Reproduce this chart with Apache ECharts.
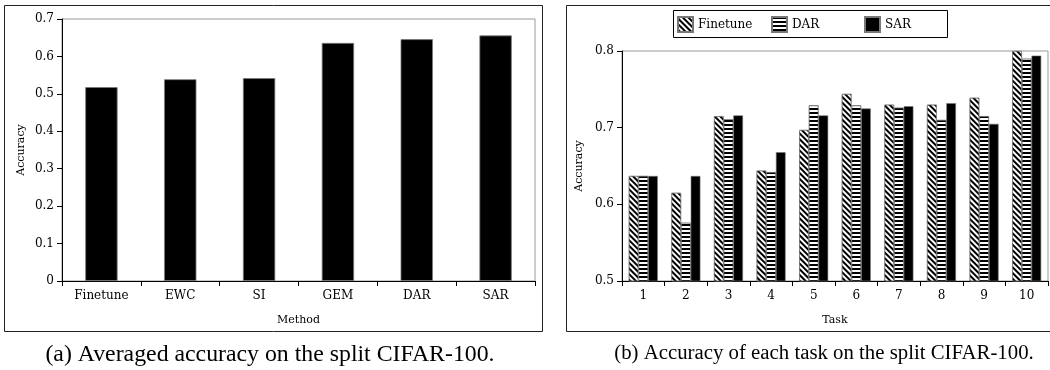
<!DOCTYPE html>
<html>
<head>
<meta charset="utf-8">
<script src="https://cdn.jsdelivr.net/npm/echarts@6/dist/echarts.min.js"></script>
<style>
  html, body { margin: 0; padding: 0; background: #fff; }
  #chart { width: 1050px; height: 370px; }
</style>
</head>
<body>
<div id="chart"></div>
<script>
// ---- data ----
const methods = ['Finetune', 'EWC', 'SI', 'GEM', 'DAR', 'SAR'];
const avgAccuracy = [0.518, 0.539, 0.542, 0.636, 0.646, 0.656];

const tasks = ['1', '2', '3', '4', '5', '6', '7', '8', '9', '10'];
const finetuneAcc = [0.637, 0.615, 0.715, 0.644, 0.697, 0.744, 0.730, 0.730, 0.739, 0.800];
const darAcc      = [0.637, 0.576, 0.711, 0.642, 0.729, 0.729, 0.726, 0.710, 0.715, 0.790];
const sarAcc      = [0.637, 0.637, 0.716, 0.668, 0.716, 0.725, 0.728, 0.732, 0.705, 0.794];

const leftTicks = { min: 0, max: 0.7, interval: 0.1 };
const rightTicks = { min: 0.5, max: 0.8, interval: 0.1 };

const captionA = '(a) Averaged accuracy on the split CIFAR-100.';
const captionB = '(b) Accuracy of each task on the split CIFAR-100.';

// ---- styles ----
const tickFont = { fontFamily: 'DejaVu Serif', fontSize: 12, color: '#000' };
const nameFont = { fontFamily: 'DejaVu Serif', fontSize: 11, color: '#000' };

function yAxis(gridIndex, t, nameGap) {
  return {
    type: 'value', gridIndex, min: t.min, max: t.max, interval: t.interval,
    name: 'Accuracy', nameLocation: 'middle', nameGap, nameTextStyle: nameFont,
    axisLine: { show: true, lineStyle: { color: '#000', width: 1 } },
    axisTick: { show: true, inside: false, length: 5, lineStyle: { color: '#000' } },
    axisLabel: Object.assign({ margin: 8 }, tickFont),
    splitLine: { show: false }
  };
}
function xAxis(gridIndex, cats, name) {
  return {
    type: 'category', gridIndex, data: cats,
    name, nameLocation: 'middle', nameGap: 34, nameTextStyle: nameFont,
    axisLine: { show: true, lineStyle: { color: '#000', width: 1 } },
    axisTick: { show: true, alignWithLabel: false, length: 5, lineStyle: { color: '#000' } },
    axisLabel: Object.assign({ margin: 9, interval: 0 }, tickFont),
    splitLine: { show: false }
  };
}
function legendItem(name, left) {
  return {
    left, top: 16, data: [name], orient: 'horizontal',
    icon: 'rect', itemWidth: 15, itemHeight: 15, padding: 0,
    textStyle: { fontFamily: 'DejaVu Serif', fontSize: 12, color: '#000' },
    selectedMode: false
  };
}

const chart = echarts.init(document.getElementById('chart'), null, { renderer: 'canvas' });

chart.setOption({
  animation: false,
  backgroundColor: '#fff',
  title: [
    { text: captionA, left: 265, top: 338, textAlign: 'center',
      textStyle: { fontFamily: 'Liberation Serif', fontSize: 23.8, fontWeight: 'normal', color: '#000' } },
    { text: captionB, left: 819, top: 338, textAlign: 'center',
      textStyle: { fontFamily: 'Liberation Serif', fontSize: 20.8, fontWeight: 'normal', color: '#000' } }
  ],
  graphic: [
    { type: 'rect', shape: { x: 4.5, y: 5.5, width: 538, height: 326 },
      style: { fill: 'none', stroke: '#222', lineWidth: 1 }, silent: true },
    { type: 'rect', shape: { x: 566.5, y: 5.5, width: 520, height: 326 },
      style: { fill: 'none', stroke: '#222', lineWidth: 1 }, silent: true },
    { type: 'rect', shape: { x: 673.5, y: 10.5, width: 274, height: 27 },
      style: { fill: 'none', stroke: '#000', lineWidth: 1 }, silent: true }
  ],
  legend: [legendItem('Finetune', 677), legendItem('DAR', 771), legendItem('SAR', 864)],
  grid: [
    { left: 62, top: 19, right: 515, bottom: 89, show: true, borderColor: '#999', borderWidth: 1, containLabel: false },
    { left: 622, top: 51, right: 2, bottom: 89, show: true, borderColor: '#999', borderWidth: 1, containLabel: false }
  ],
  xAxis: [xAxis(0, methods, 'Method'), xAxis(1, tasks, 'Task')],
  yAxis: [yAxis(0, leftTicks, 35), yAxis(1, rightTicks, 37)],
  series: [
    { type: 'bar', name: 'Average', xAxisIndex: 0, yAxisIndex: 0, data: avgAccuracy,
      barCategoryGap: '59%',
      itemStyle: { color: '#000', borderColor: '#777', borderWidth: 0.8 } },
    { type: 'bar', name: 'Finetune', xAxisIndex: 1, yAxisIndex: 1, data: finetuneAcc,
      barGap: '0%', barCategoryGap: '32%', clip: true,
      itemStyle: { color: '#fff', borderColor: '#777', borderWidth: 0.6,
        decal: { symbol: 'rect', symbolSize: 1, color: '#000', dashArrayX: [1, 0], dashArrayY: [2, 2], rotation: Math.PI / 4 } } },
    { type: 'bar', name: 'DAR', xAxisIndex: 1, yAxisIndex: 1, data: darAcc,
      barGap: '0%', barCategoryGap: '32%', clip: true,
      itemStyle: { color: '#fff', borderColor: '#777', borderWidth: 0.6,
        decal: { symbol: 'rect', symbolSize: 1, color: '#000', dashArrayX: [1, 0], dashArrayY: [2, 2], rotation: 0 } } },
    { type: 'bar', name: 'SAR', xAxisIndex: 1, yAxisIndex: 1, data: sarAcc,
      barGap: '0%', barCategoryGap: '32%', clip: true,
      itemStyle: { color: '#000', borderColor: '#777', borderWidth: 0.6 } }
  ]
});
</script>
</body>
</html>
